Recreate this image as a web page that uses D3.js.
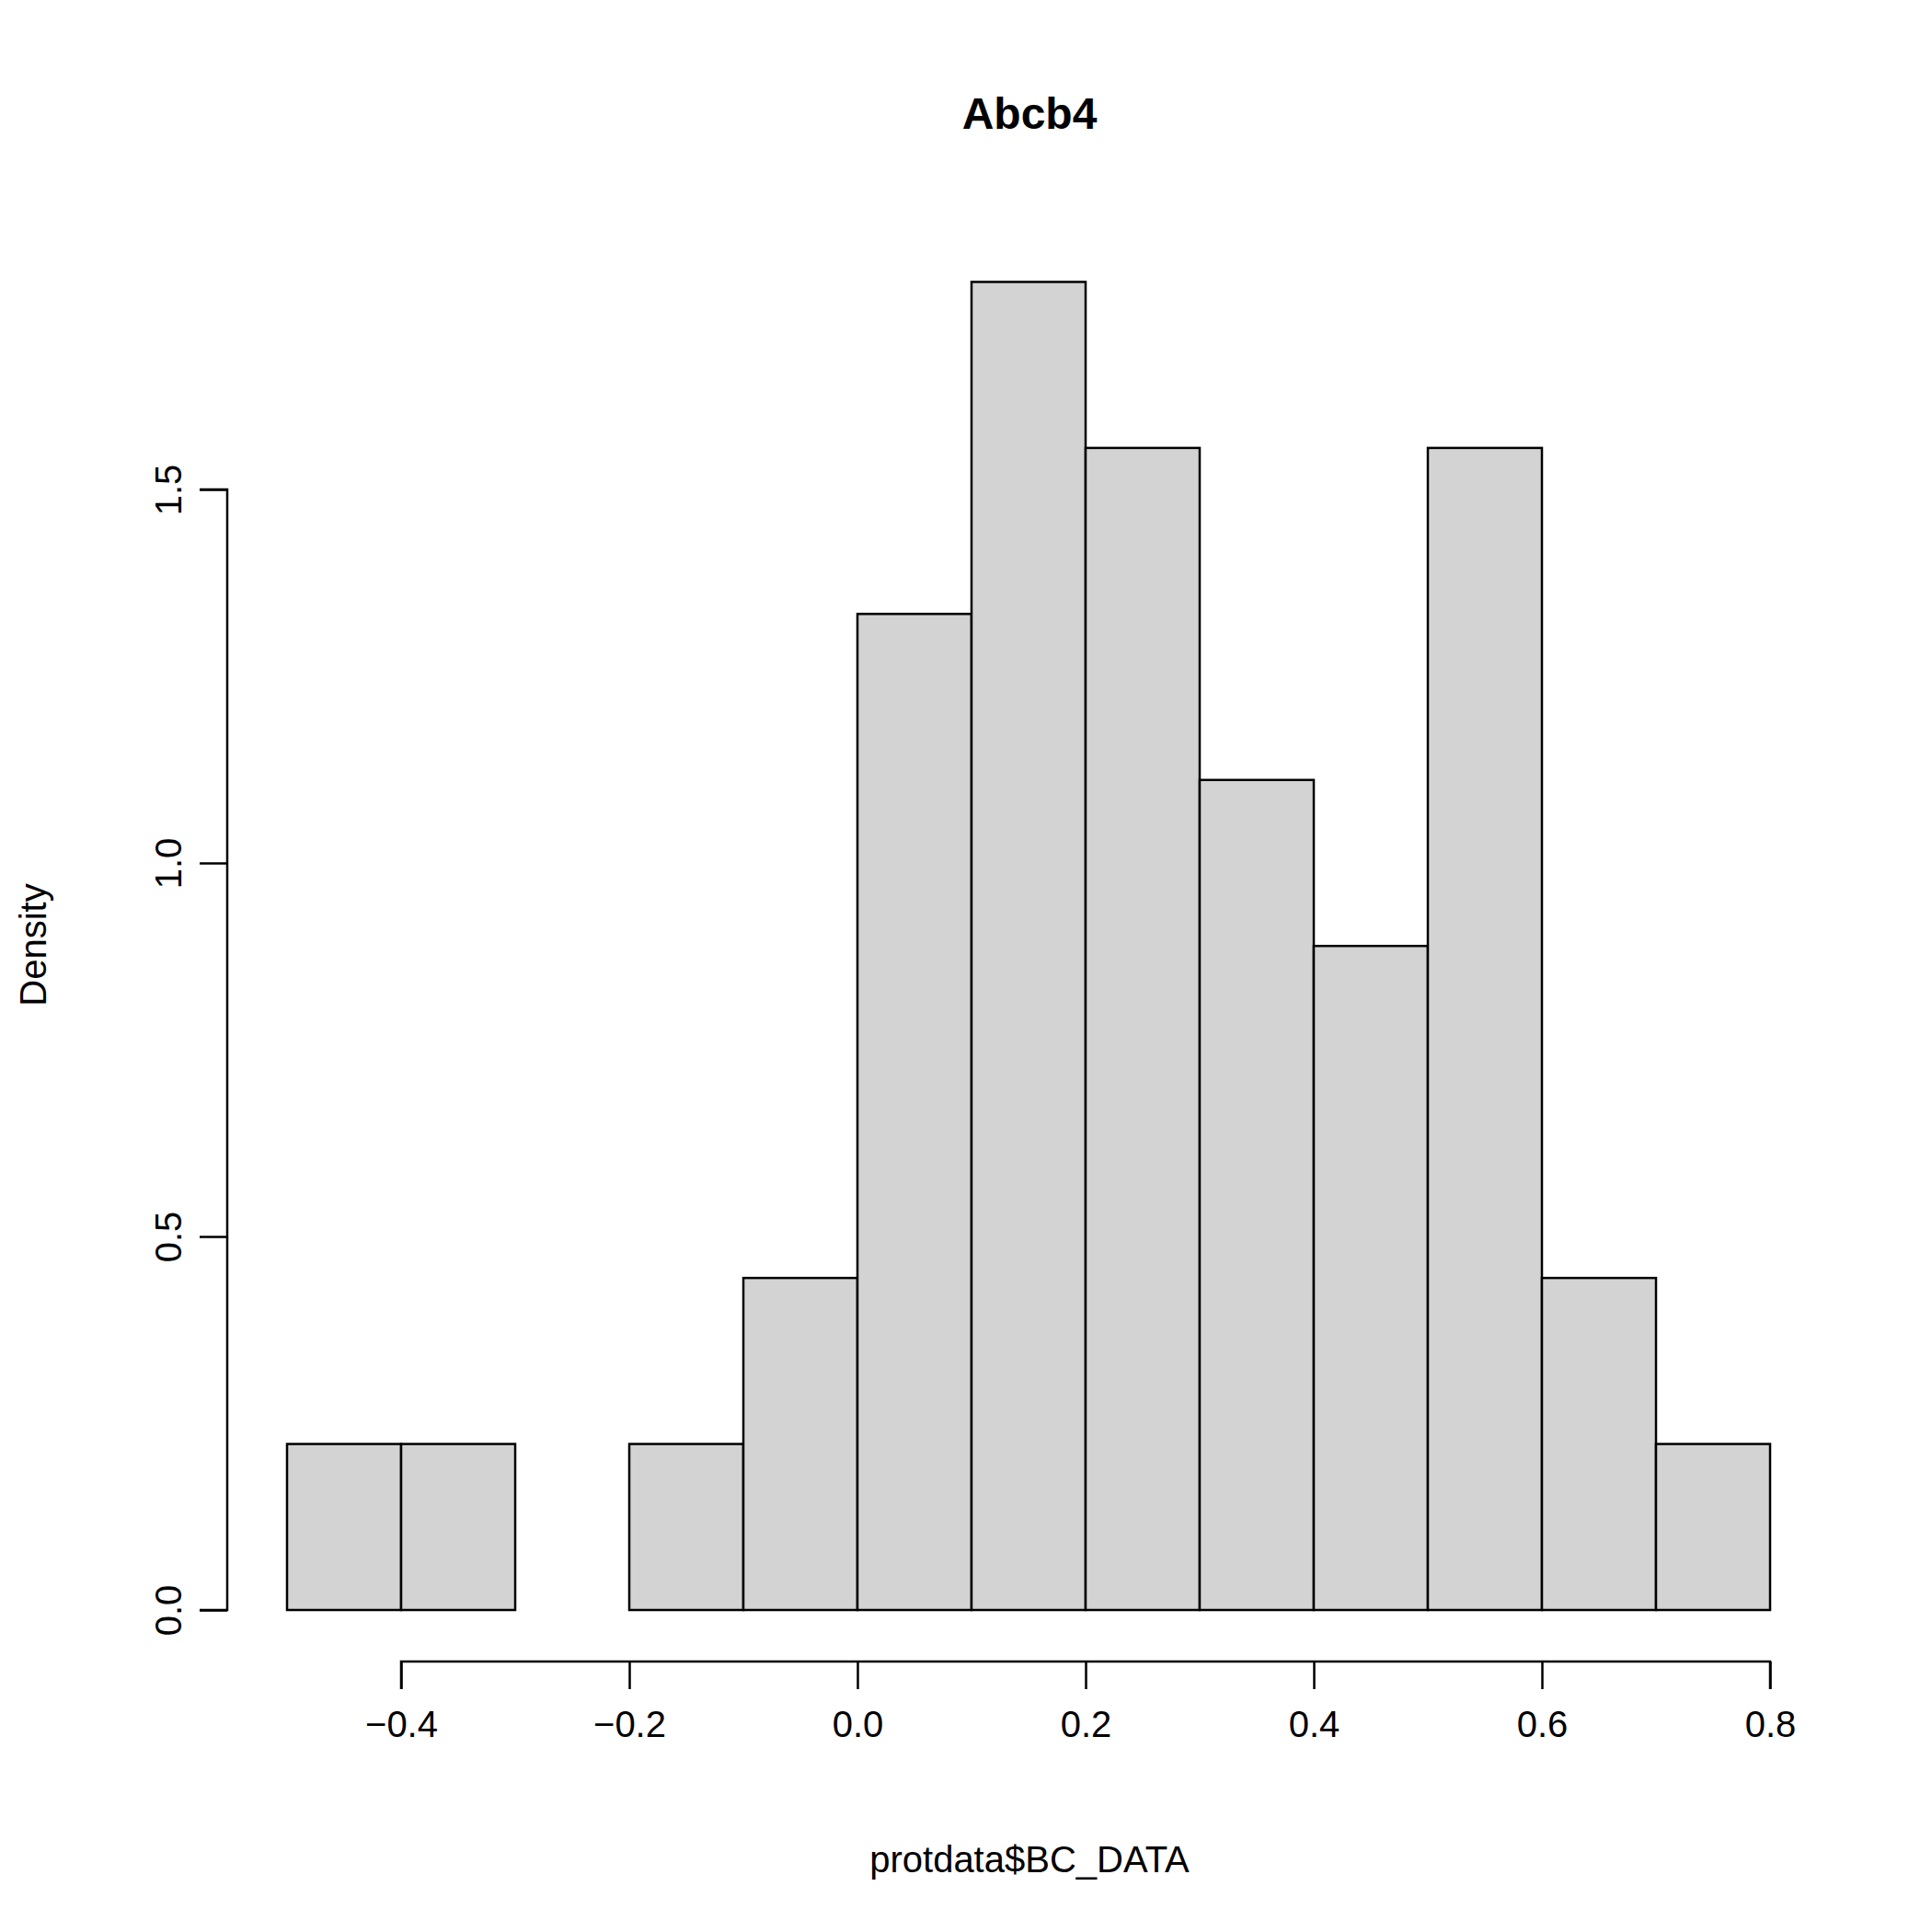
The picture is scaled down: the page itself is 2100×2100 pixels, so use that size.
<!DOCTYPE html>
<html><head><meta charset="utf-8">
<script src="https://cdn.jsdelivr.net/npm/d3@7"></script>
<style>body{margin:0;background:#fff}</style>
</head><body>
<script>
// histogram bins of protdata$BC_DATA (n = 45)
var binStarts = [-0.5,-0.4,-0.3,-0.2,-0.1,0.0,0.1,0.2,0.3,0.4,0.5,0.6,0.7];
var binCounts = [1,1,0,1,2,6,8,7,5,4,7,2,1];
var xTicks = [-0.4,-0.2,0.0,0.2,0.4,0.6,0.8];
var yTicks = [0.0,0.5,1.0,1.5];
var binWidth = 0.1, total = 45;

var svg = d3.select("body").append("svg").attr("width",2100).attr("height",2100)
  .style("font-family","'Liberation Sans', Arial, sans-serif");

var x = d3.scaleLinear().domain([-0.4,0.8]).range([436,1924]);
var y = d3.scaleLinear().domain([0,1.5]).range([1750,532]);

var bins = binStarts.map(function(s,i){ return {x0:s, d: binCounts[i]/(total*binWidth)}; });

svg.selectAll("rect").data(bins).enter().append("rect")
  .attr("x", function(d){ return x(d.x0); })
  .attr("width", function(d){ return x(d.x0+binWidth)-x(d.x0); })
  .attr("y", function(d){ return y(d.d); })
  .attr("height", function(d){ return y(0)-y(d.d); })
  .attr("fill","#d3d3d3").attr("stroke","#000").attr("stroke-width",2.5);

// x axis
var gx = svg.append("g").attr("transform","translate(0,1806)")
  .call(d3.axisBottom(x).tickValues(xTicks).tickSize(30).tickPadding(24)
    .tickFormat(function(d){ return d3.format(".1f")(d).replace("-","\u2212"); }));
// y axis
var gy = svg.append("g").attr("transform","translate(247,0)")
  .call(d3.axisLeft(y).tickValues(yTicks).tickSize(30).tickFormat(d3.format(".1f")));
[gx,gy].forEach(function(g){
  g.select(".domain").attr("stroke-width",2.5);
  g.selectAll(".tick line").attr("stroke-width",2.5);
  g.selectAll("text").attr("font-size",40).attr("font-family","'Liberation Sans', Arial, sans-serif").attr("fill","#000");
});
gx.select(".domain").attr("d","M"+x(-0.4)+",30V0H"+x(0.8)+"V30");
gy.select(".domain").attr("d","M-30,"+y(0)+"H0V"+y(1.5)+"H-30");
gy.selectAll(".tick text").attr("transform","rotate(-90)").attr("x",0).attr("dy",0)
  .attr("y",-50).attr("text-anchor","middle");

svg.append("text").attr("x",1119).attr("y",140).attr("text-anchor","middle")
  .attr("font-size",48).attr("font-weight","bold").text("Abcb4");
svg.append("text").attr("x",1119).attr("y",2035).attr("text-anchor","middle")
  .attr("font-size",40).text("protdata$BC_DATA");
svg.append("text").attr("transform","translate(50,1027) rotate(-90)").attr("text-anchor","middle")
  .attr("font-size",40).text("Density");
</script>
</body></html>
